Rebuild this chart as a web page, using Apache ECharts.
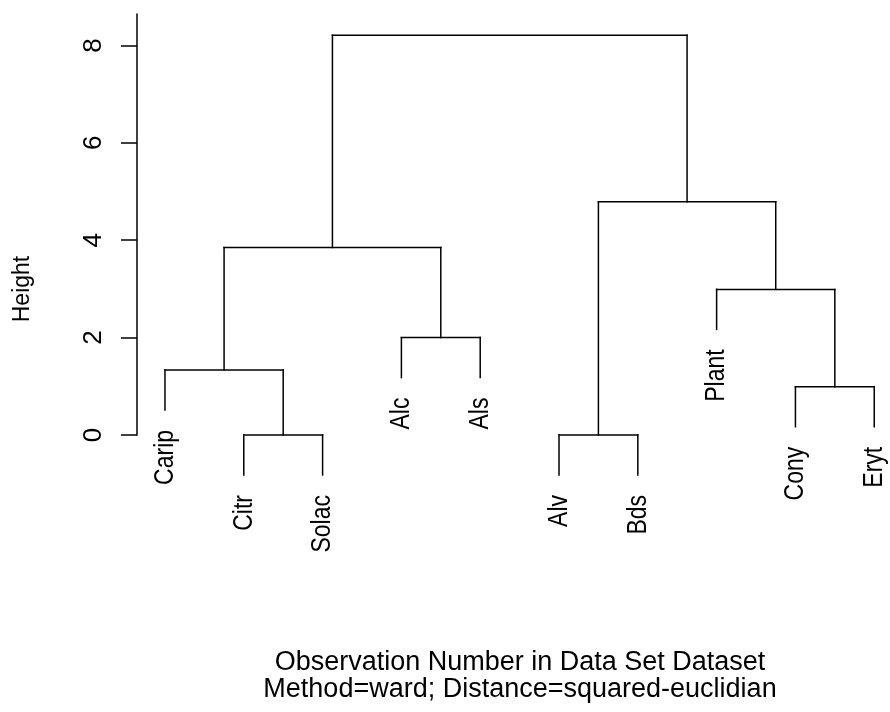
<!DOCTYPE html>
<html>
<head>
<meta charset="utf-8">
<script src="https://cdn.jsdelivr.net/npm/echarts@6/dist/echarts.min.js"></script>
<style>
html,body{margin:0;padding:0;background:#fff;}
#chart{width:890px;height:712px;}
</style>
</head>
<body>
<div id="chart"></div>
<script>
// Leaves in plotting order
const leafLabels = ['Carip', 'Citr', 'Solac', 'Alc', 'Als', 'Alv', 'Bds', 'Plant', 'Cony', 'Eryt'];
// hclust-style merge table: negative = leaf (1-based position), positive = earlier merge
const mergeLeft = [-2, -6, -9, -1, -4, -8, 4, 2, 7];
const mergeRight = [-3, -7, -10, 1, -5, 3, 5, 6, 8];
const mergeHeights = [0, 0, 0.99, 1.335, 2.0, 2.99, 3.85, 4.79, 8.21];
const yTicks = [0, 2, 4, 6, 8];
const yAxisTitle = 'Height';
const subTitle1 = 'Observation Number in Data Set Dataset';
const subTitle2 = 'Method=ward; Distance=squared-euclidian';

const FONT = "'Liberation Sans', Arial, Helvetica, sans-serif";
const hang = 0.1 * Math.max(...mergeHeights);

// Build segments from merge table
const nodeX = [];
const segments = [];
const leafEnds = [];
function child(c, h) {
  if (c < 0) {
    const x = -c;
    leafEnds.push([x, h - hang, leafLabels[x - 1]]);
    return { x: x, top: h - hang };
  }
  return { x: nodeX[c - 1], top: mergeHeights[c - 1] };
}
for (let i = 0; i < mergeHeights.length; i++) {
  const h = mergeHeights[i];
  const a = child(mergeLeft[i], h);
  const b = child(mergeRight[i], h);
  nodeX[i] = (a.x + b.x) / 2;
  segments.push([a.x, a.top, a.x, h]);
  segments.push([b.x, b.top, b.x, h]);
  segments.push([a.x, h, b.x, h]);
}

const chart = echarts.init(document.getElementById('chart'), null, { renderer: 'canvas' });
chart.setOption({
  backgroundColor: '#fff',
  animation: false,
  grid: { left: 137, right: 0, top: 14, bottom: 277 },
  xAxis: {
    type: 'value', min: 0.645, max: 10.2,
    axisLine: { show: false }, axisTick: { show: false },
    axisLabel: { show: false }, splitLine: { show: false }
  },
  yAxis: {
    type: 'value', min: 0, max: 8.645, interval: 2,
    axisLine: { show: true, lineStyle: { color: '#000', width: 1.5 } },
    axisTick: { show: true, length: 16, customValues: yTicks, lineStyle: { color: '#000', width: 1.5 } },
    axisLabel: {
      rotate: 90, margin: 30, customValues: yTicks,
      color: '#000', fontSize: 26, fontFamily: FONT
    },
    splitLine: { show: false }
  },
  series: [
    {
      type: 'custom',
      clip: false,
      data: segments,
      encode: { x: [0, 2], y: [1, 3] },
      renderItem: function (params, api) {
        const p1 = api.coord([api.value(0), api.value(1)]);
        const p2 = api.coord([api.value(2), api.value(3)]);
        return {
          type: 'line',
          shape: { x1: p1[0], y1: p1[1], x2: p2[0], y2: p2[1] },
          style: { stroke: '#000', lineWidth: 1.5, lineCap: 'square' }
        };
      }
    },
    {
      type: 'custom',
      clip: false,
      data: leafEnds,
      encode: { x: 0, y: 1 },
      renderItem: function (params, api) {
        const p = api.coord([api.value(0), api.value(1)]);
        return {
          type: 'text',
          x: p[0], y: p[1] + 20,
          rotation: Math.PI / 2,
          scaleY: 1.22,
          style: {
            text: leafEnds[params.dataIndex][2],
            align: 'right', verticalAlign: 'middle',
            fill: '#000', font: '23px ' + FONT
          }
        };
      }
    }
  ],
  graphic: [
    {
      type: 'text', x: 23, y: 289, rotation: Math.PI / 2,
      style: { text: yAxisTitle, align: 'center', verticalAlign: 'middle', fill: '#000', font: '23px ' + FONT }
    },
    {
      type: 'text', x: 520, y: 663,
      style: { text: subTitle1, align: 'center', verticalAlign: 'middle', fill: '#000', font: '27px ' + FONT }
    },
    {
      type: 'text', x: 520, y: 690,
      style: { text: subTitle2, align: 'center', verticalAlign: 'middle', fill: '#000', font: '27px ' + FONT }
    }
  ]
});
</script>
</body>
</html>
